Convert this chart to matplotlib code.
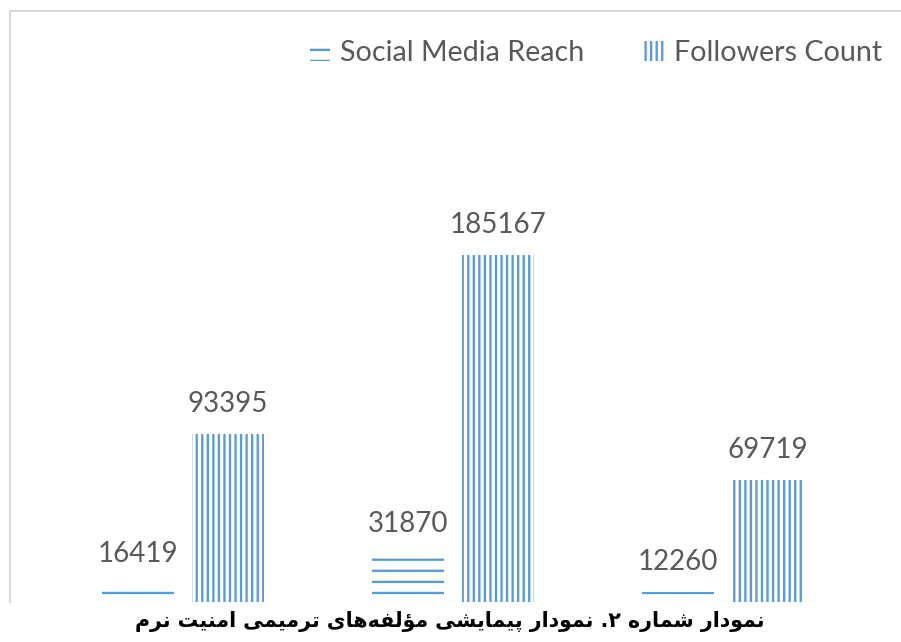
import matplotlib
matplotlib.use('Agg')
import matplotlib.pyplot as plt
import numpy as np
from matplotlib.lines import Line2D

# data
groups = [1, 2, 3]
social_reach = [16419, 31870, 12260]
followers = [93395, 185167, 69719]
series_names = ['Social Media Reach', 'Followers Count']
caption = 'نمودار شماره ۲. نمودار پیمایشی مؤلفه\u200cهای ترمیمی امنیت نرم'

# tiny persian shaper: (isolated, final, initial, medial)
forms = {
    'ا': (0xFE8D, 0xFE8E, None, None),
    'د': (0xFEA9, 0xFEAA, None, None),
    'ر': (0xFEAD, 0xFEAE, None, None),
    'و': (0xFEED, 0xFEEE, None, None),
    'ؤ': (0xFE85, 0xFE86, None, None),
    'ت': (0xFE95, 0xFE96, 0xFE97, 0xFE98),
    'ش': (0xFEB5, 0xFEB6, 0xFEB7, 0xFEB8),
    'ف': (0xFED1, 0xFED2, 0xFED3, 0xFED4),
    'ل': (0xFEDD, 0xFEDE, 0xFEDF, 0xFEE0),
    'م': (0xFEE1, 0xFEE2, 0xFEE3, 0xFEE4),
    'ن': (0xFEE5, 0xFEE6, 0xFEE7, 0xFEE8),
    'ه': (0xFEE9, 0xFEEA, 0xFEEB, 0xFEEC),
    'ی': (0xFEEF, 0xFEF0, 0xFEF3, 0xFEF4),
    'پ': (0xFB56, 0xFB57, 0xFB58, 0xFB59),
}


def shape(s):
    out = []
    for i, c in enumerate(s):
        if c not in forms:
            if c != '\u200c':
                out.append(c)
            continue
        prev = s[i - 1] if i > 0 else ''
        nxt = s[i + 1] if i + 1 < len(s) else ''
        join_prev = prev in forms and forms[prev][2] is not None
        join_next = forms[c][2] is not None and nxt in forms
        f = forms[c]
        if join_prev and join_next:
            code = f[3]
        elif join_prev:
            code = f[1]
        elif join_next:
            code = f[2]
        else:
            code = f[0]
        out.append(chr(code))
    return ''.join(out)[::-1]


DPI = 133
W, H = 901, 642
fig = plt.figure(figsize=(W / DPI, H / DPI), dpi=DPI)
plt.rcParams['hatch.linewidth'] = 1.25

# axes placed in pixels: x 48..858, y 100..602 (bottom is cropped)
ax = fig.add_axes([48 / W, (H - 602) / H, 810 / W, 502 / H])

blue = '#5B9BD5'
x = np.arange(len(groups))
off = 44.75 / 270
bw = 72 / 270
b1 = ax.bar(x - off, social_reach, bw, facecolor='white', edgecolor=blue,
            lw=0, hatch='--', label=series_names[0])
b2 = ax.bar(x + off, followers, bw, facecolor='white', edgecolor=blue,
            lw=0, hatch='||||', label=series_names[1])

for bars, vals in [(b1, social_reach), (b2, followers)]:
    for r, v in zip(bars, vals):
        ax.annotate(str(v), (r.get_x() + r.get_width() / 2, v),
                    xytext=(0, 9), textcoords='offset points',
                    ha='center', va='bottom', fontsize=15,
                    family='Lato', color='#595959')

scale = 0.001949  # px per unit
ax.set_ylim((616 - 602) / scale, (616 - 100) / scale)
ax.set_xlim(-0.5, 2.5)
for s in ax.spines.values():
    s.set_visible(False)
ax.set_xticks([])
ax.set_yticks([])

leg = fig.legend(handles=[b1, b2], loc='center',
                 bbox_to_anchor=(596 / W, 1 - 53 / H), ncol=2, frameon=False,
                 prop={'family': 'Lato', 'size': 15.5},
                 handlelength=0.7, handleheight=0.7, handletextpad=0.35,
                 columnspacing=2.1)
for t in leg.get_texts():
    t.set_color('#595959')

# chart border (only left and top visible)
fig.add_artist(Line2D([9.5 / W, 9.5 / W], [1 - 602 / H, 1 - 10.5 / H],
                      color='#D9D9D9', lw=1.1))
fig.add_artist(Line2D([9.5 / W, 1.0], [1 - 10.5 / H, 1 - 10.5 / H],
                      color='#D9D9D9', lw=1.1))

fig.text(450 / W, 1 - 622 / H, shape(caption), ha='center', va='center',
         fontsize=11.1, fontweight='bold', family=['DejaVu Sans'], color='black')

fig.savefig('out.png', dpi=DPI)
